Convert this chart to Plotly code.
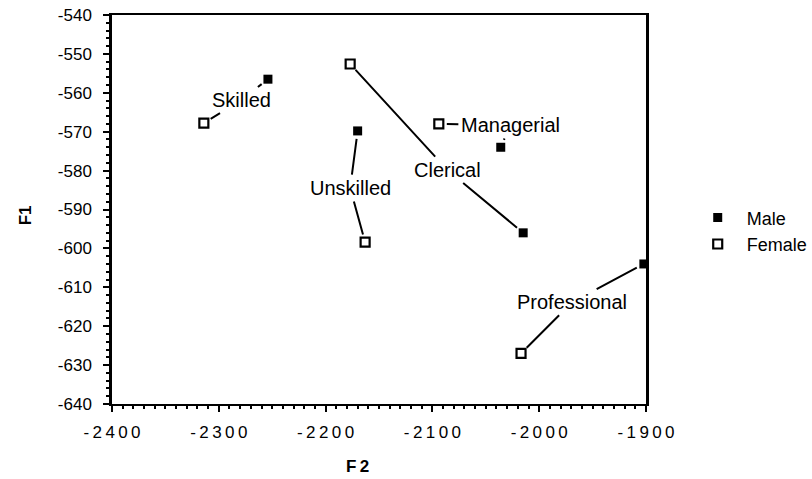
import plotly.graph_objects as go

categories = ["Skilled", "Unskilled", "Clerical", "Managerial", "Professional"]
male_f2 = [-2254, -2170, -2015, -2036, -1902]
male_f1 = [-556.5, -569.8, -596, -574, -604]
female_f2 = [-2314, -2163, -2177, -2094, -2017]
female_f1 = [-567.8, -598.4, -552.6, -568, -627]
label_f2 = [-2279, -2177, -2086, -2027, -1969]
label_f1 = [-561.9, -584.5, -579.8, -568.3, -613.8]

x_ticks = [-2400, -2300, -2200, -2100, -2000, -1900]
y_ticks = [-540, -550, -560, -570, -580, -590, -600, -610, -620, -630, -640]

FONT = "Liberation Sans, Arial, Helvetica, sans-serif"

fig = go.Figure()
fig.add_trace(go.Scatter(
    x=male_f2, y=male_f1, mode="markers", name="Male",
    marker=dict(symbol="square", size=9, color="black", line=dict(width=0)),
    cliponaxis=False,
))
fig.add_trace(go.Scatter(
    x=female_f2, y=female_f1, mode="markers", name="Female",
    marker=dict(symbol="square-open", size=9, color="black", line=dict(width=2.2)),
    cliponaxis=False,
))

for cat, mx, my, fx, fy, lx, ly in zip(categories, male_f2, male_f1, female_f2, female_f1, label_f2, label_f1):
    for px, py, col in ((mx, my, "black"), (fx, fy, "rgba(0,0,0,0)")):
        fig.add_annotation(
            x=px, y=py, ax=lx, ay=ly, axref="x", ayref="y", xref="x", yref="y",
            text=cat, showarrow=True, arrowhead=0, arrowwidth=2, arrowcolor="black",
            standoff=8, startstandoff=1,
            font=dict(family=FONT, size=20, color=col),
        )

def spaced(v):
    return "\u2009".join(str(v))

fig.update_xaxes(
    range=[-2400, -1900], tickvals=x_ticks, ticktext=[spaced(v) for v in x_ticks],
    showline=True, linewidth=2, linecolor="black", mirror=True,
    ticks="outside", ticklen=6, tickwidth=2, tickcolor="black",
    minor=dict(dtick=10, tick0=-2400, ticks="outside", ticklen=3, tickwidth=2, tickcolor="black"),
    showgrid=False, zeroline=False, automargin=False,
    tickfont=dict(family=FONT, size=17, color="black"),
    ticklabelstandoff=6,
)
fig.update_yaxes(
    range=[-640, -540], tickvals=y_ticks, ticktext=[str(v) for v in y_ticks],
    showline=True, linewidth=2.5, linecolor="black", mirror=True,
    ticks="outside", ticklen=6, tickwidth=2, tickcolor="black",
    minor=dict(dtick=2, tick0=-640, ticks="outside", ticklen=3, tickwidth=2, tickcolor="black"),
    showgrid=False, zeroline=False, automargin=False,
    tickfont=dict(family=FONT, size=17, color="black"),
    ticklabelstandoff=8,
)

fig.add_annotation(text="<b>F\u20092</b>", xref="paper", yref="paper", x=0.46, y=-0.16,
                   xanchor="center", yanchor="middle", showarrow=False,
                   font=dict(family=FONT, size=17, color="black"))
fig.add_annotation(text="<b>F1</b>", xref="paper", yref="paper", x=-0.163, y=0.485,
                   xanchor="center", yanchor="middle", showarrow=False, textangle=-90,
                   font=dict(family=FONT, size=17, color="black"))

fig.update_layout(
    width=812, height=479,
    margin=dict(l=112, r=166, t=15, b=75, autoexpand=False),
    paper_bgcolor="white", plot_bgcolor="white",
    showlegend=True,
    legend=dict(x=1.08, y=0.445, xanchor="left", yanchor="middle",
                font=dict(family=FONT, size=18, color="black"),
                bgcolor="rgba(0,0,0,0)", itemwidth=48, tracegroupgap=0),
    font=dict(family=FONT, color="black"),
)

fig.write_html("out.html", config={"displayModeBar": False},
               post_script="document.body.style.margin='0';document.body.style.overflow='hidden';")
